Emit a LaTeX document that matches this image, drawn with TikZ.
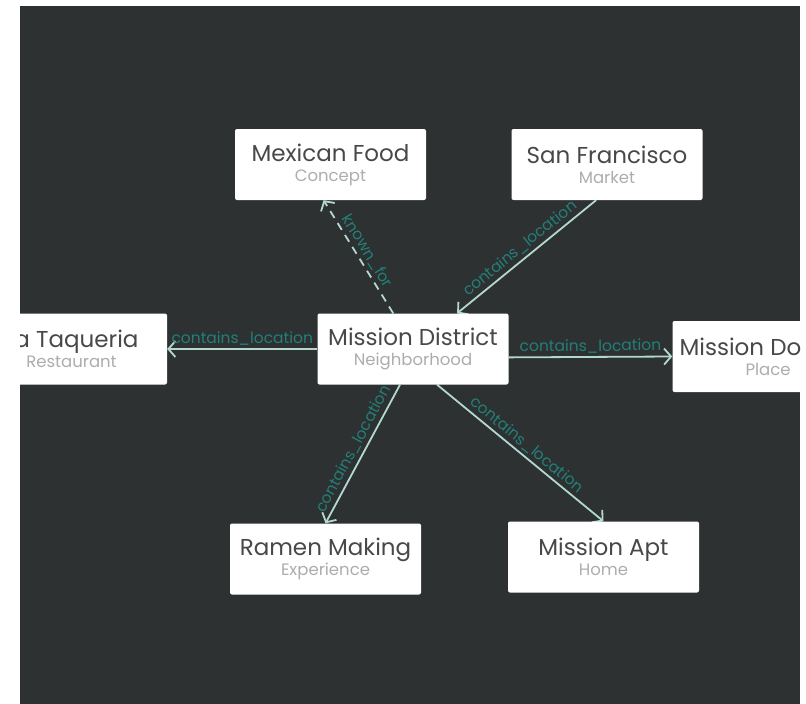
\documentclass[tikz,border=0pt]{standalone}
\usepackage{fontspec}
\setmainfont{Poppins}
\usetikzlibrary{positioning}
\usetikzlibrary{arrows.meta}
\usetikzlibrary{quotes}

\definecolor{canvasbg}{HTML}{2D3132}
\definecolor{linkline}{HTML}{B3D9CF}
\definecolor{linktext}{HTML}{237F78}
\definecolor{titlegrey}{HTML}{484848}
\definecolor{kindgrey}{HTML}{ADADAD}
\pgfdeclarelayer{canvas}
\pgfdeclarelayer{links}
\pgfsetlayers{canvas,links,main}
\newcommand{\entity}[2]{{\color{titlegrey}#1}\\{\fontsize{16.5}{17}\selectfont\color{kindgrey}#2}}

\begin{document}
\begin{tikzpicture}
		[entity/.style={rectangle, rounded corners=2pt, fill=white, minimum width=191pt, minimum height=71pt, inner sep=0pt, align=center, font=\fontsize{23}{20}\selectfont},
		 link/.style={draw=linkline, line width=1.8pt, -{Straight Barb[length=7pt,width=16pt]}},
		 every edge quotes/.style={font=\fontsize{15.5}{16}\selectfont, text=linktext, sloped, above, inner sep=3pt},
		 on grid]
		\useasboundingbox (0,0) rectangle (806pt,-704pt);
		\begin{pgfonlayer}{canvas}
			\fill[white] (0,0) rectangle (806pt,-704pt);
			\fill[canvasbg] (20pt,-6pt) rectangle (800pt,-704pt);
		\end{pgfonlayer}
		\begin{scope}
			\clip (20pt,-6pt) rectangle (800pt,-704pt);
			\node[entity] (md) at (413pt,-349pt) {\entity{Mission District}{Neighborhood}};
			\node[entity, above left=184.5pt and 82.5pt of md] (mf) {\entity{Mexican Food}{Concept}};
			\node[entity, above right=184.5pt and 194pt of md] (sf) {\entity{San Francisco}{Market}};
			\node[entity, left=341.5pt of md] (taq) {\entity{La Taqueria}{Restaurant}};
			\node[entity, below right=7.5pt and 355pt of md] (dol) {\entity{Mission Dolores}{Place}};
			\node[entity, below left=210pt and 87.5pt of md] (ram) {\entity{Ramen Making}{Experience}};
			\node[entity, below right=208pt and 190.5pt of md] (apt) {\entity{Mission Apt}{Home}};
		\end{scope}
		\begin{pgfonlayer}{links}
			\draw[link, dashed, dash pattern=on 8pt off 6pt] (md.119) to["known\_for"] (mf.259);
			\draw[link] (sf.253) to["contains\_location"] (md.39);
			\draw[link] (md.west) to["contains\_location"] (taq.east);
			\draw[link] (md.-5) to["contains\_location"] (dol.west);
			\draw[link] (md.250) to["contains\_location"] (ram.north);
			\draw[link] (md.-56) to["contains\_location"] (apt.north);
		\end{pgfonlayer}
\end{tikzpicture}
\end{document}
